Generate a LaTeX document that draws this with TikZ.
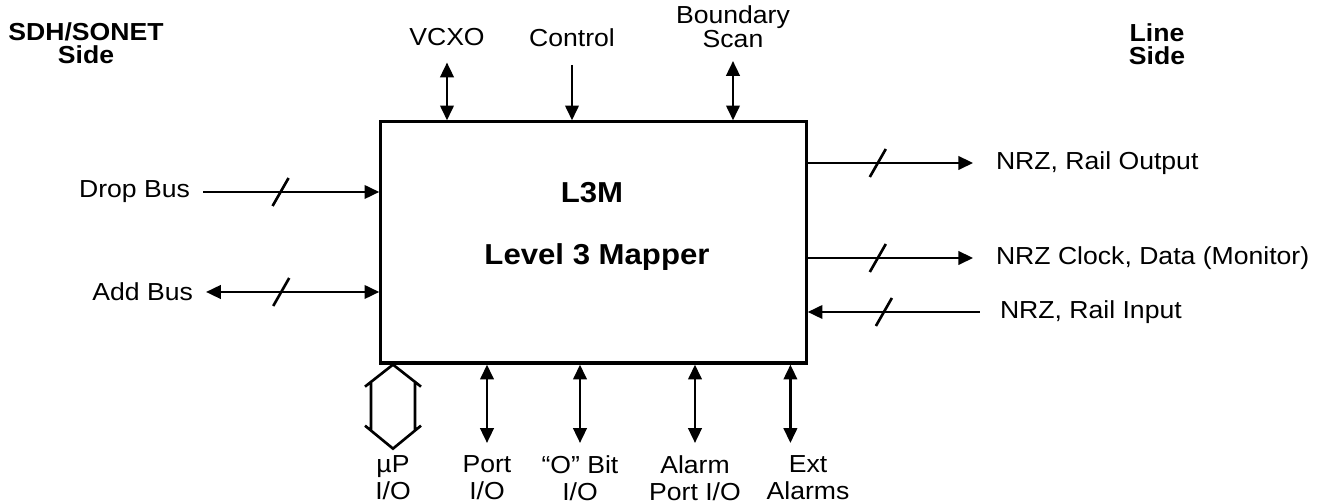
\documentclass[tikz,border=0pt]{standalone}
\usepackage{fontspec}
\setmainfont{Liberation Sans}[FakeStretch=1.08]
\usetikzlibrary{arrows.meta}
\begin{document}
\begin{tikzpicture}[x=0.01cm, y=-0.01cm, line width=0.75pt,
    >={Triangle[length=4.2pt, width=3.8pt]},
    lbl/.style={font=\fontsize{7}{7}\selectfont, align=center},
    side/.style={font=\fontsize{7}{6.4}\selectfont\bfseries, align=center, anchor=north},
    pin/.style={font=\fontsize{7}{7.5}\selectfont, align=center, anchor=north}]
    \useasboundingbox (0,0) rectangle (1320,501);
    % the mapper
    \node[draw, line width=0.9pt, minimum width=4.25cm, minimum height=2.41cm] (box) at (593.5,242.5) {};
    \node[font=\fontsize{8.2}{9}\selectfont\bfseries, anchor=base] (name) at (592,203) {L3M};
    \node[font=\fontsize{8.2}{9}\selectfont\bfseries, anchor=base] (title) at (597,265) {Level 3 Mapper};
    \node[side] (sside) at (86,10) {SDH/SONET\\Side};
    \node[side] (lside) at (1157,11) {Line\\Side};
    % top
    \node[lbl, anchor=south] (vcxo) at (447,59) {VCXO};
    \node[lbl, anchor=south] (ctrl) at (572,60) {Control};
    \node[lbl, anchor=south] (bscan) at (733,61) {Boundary\\Scan};
    \draw[<->, shorten <=1pt] (vcxo) -- (vcxo |- box.north);
    \draw[->, shorten <=1.4pt] (ctrl) -- (ctrl |- box.north);
    \draw[<->] (bscan) -- (bscan |- box.north);
    % left
    \node[lbl, anchor=east] (drop) at (203,192) {Drop Bus};
    \node[lbl, anchor=east] (add) at (206,292) {Add Bus};
    \draw[->] (drop) -- coordinate[pos=0.44] (s1) (drop -| box.west);
    \draw (s1) +(-8,14) -- +(8,-14);
    \draw[<->] (add) -- coordinate[pos=0.434] (s2) (add -| box.west);
    \draw (s2) +(-8,14) -- +(8,-14);
    % right
    \node[lbl, anchor=west] (rout) at (983,163) {NRZ, Rail Output};
    \node[lbl, anchor=west] (mon) at (983,258) {NRZ Clock, Data (Monitor)};
    \node[lbl, anchor=west] (rin) at (987,312) {NRZ, Rail Input};
    \draw[->, shorten >=2.8pt] (box.east |- rout) -- coordinate[pos=0.4] (s3) (rout);
    \draw (s3) +(-8,14) -- +(8,-14);
    \draw[->, shorten >=2.8pt] (box.east |- mon) -- coordinate[pos=0.4] (s4) (mon);
    \draw (s4) +(-8,14) -- +(8,-14);
    \draw[->, shorten <=2pt] (rin) -- coordinate[pos=0.575] (s5) (rin -| box.east);
    \draw (s5) +(-8,14) -- +(8,-14);
    % bottom
    \node[pin] (upio) at (393,443) {µP\\I/O};
    \node[pin] (port) at (487,443) {Port\\I/O};
    \node[pin] (obit) at (580,443) {“O” Bit\\I/O};
    \node[pin] (alarm) at (695,443) {Alarm\\Port I/O};
    \node[pin] (ext) at (808,443) {Ext\\Alarms};
    \coordinate (exttop) at ([xshift=-5pt]ext.north);
    \draw[<->] (box.south -| port) -- (port);
    \draw[<->] (box.south -| obit) -- (obit);
    \draw[<->] (box.south -| alarm) -- (alarm);
    \draw[<->] (exttop |- box.south) -- (exttop);
    % the uP bus
    \coordinate (bt) at (box.south -| upio);
    \draw (bt) ++(-28,22) -- (bt) -- ++(28,22)
        (bt) ++(-22,17) -- ++(0,49)
        (bt) ++(22,17) -- ++(0,49)
        (bt) ++(-28,61) -- ++(28,23) -- ++(28,-23);
\end{tikzpicture}
\end{document}
